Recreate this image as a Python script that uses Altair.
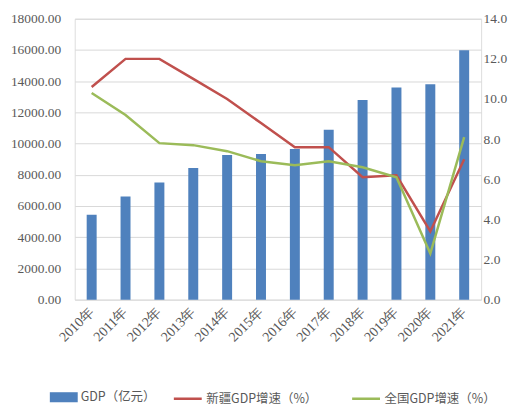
import altair as alt
import pandas as pd

years = ["2010年", "2011年", "2012年", "2013年", "2014年", "2015年",
         "2016年", "2017年", "2018年", "2019年", "2020年", "2021年"]
gdp = [5437, 6610, 7505, 8443, 9273, 9325, 9650, 10882, 12800, 13597, 13798, 15983]
xj_growth = [10.6, 12.0, 12.0, 11.0, 10.0, 8.8, 7.6, 7.6, 6.1, 6.2, 3.4, 7.0]
cn_growth = [10.3, 9.2, 7.8, 7.7, 7.4, 6.9, 6.7, 6.9, 6.6, 6.1, 2.3, 8.1]

names = ["GDP（亿元）", "新疆GDP增速（%）", "全国GDP增速（%）"]
colors = ["#4f81bd", "#c0504d", "#9bbb59"]

bar_df = pd.DataFrame({"year": years, "value": gdp, "series": names[0]})
line_df = pd.concat([
    pd.DataFrame({"year": years, "value": xj_growth, "series": names[1]}),
    pd.DataFrame({"year": years, "value": cn_growth, "series": names[2]}),
])

serif = "Liberation Serif"
label_color = "#595959"

rect_path = "M-1,-0.36H1V0.36H-1Z"

bar_legend = alt.Legend(
    title=None, orient="none", legendX=-25, legendY=366, direction="horizontal",
    labelFont="Noto Sans CJK SC", labelFontSize=12.5, labelColor=label_color,
    symbolType=rect_path, symbolSize=784, symbolStrokeWidth=0, labelOffset=3,
    labelLimit=300,
)
line_legend = alt.Legend(
    title=None, orient="none", legendX=98, legendY=366, direction="horizontal",
    labelFont="Noto Sans CJK SC", labelFontSize=12.5, labelColor=label_color,
    symbolType="stroke", symbolSize=784, symbolStrokeWidth=2.5, labelOffset=3,
    columnPadding=29, labelLimit=300,
)

x_enc = alt.X("year:N", sort=years, title=None,
              scale=alt.Scale(paddingInner=0, paddingOuter=0),
              axis=alt.Axis(labelAngle=-45, labelAlign="right", labelBaseline="middle",
                            labelFontSize=14, labelPadding=10, ticks=False,
                            domain=False, grid=False))

bars = alt.Chart(bar_df).mark_bar(size=10).encode(
    x=x_enc,
    y=alt.Y("value:Q", title=None,
            scale=alt.Scale(domain=[0, 18000]),
            axis=alt.Axis(values=list(range(0, 18001, 2000)), format=".2f",
                          labelFontSize=13.5, labelPadding=14, ticks=False, domain=False,
                          grid=True, gridColor="#d9d9d9", gridWidth=1)),
    fill=alt.Fill("series:N", scale=alt.Scale(domain=names[:1], range=colors[:1]),
                  legend=bar_legend),
)

lines = alt.Chart(line_df).mark_line(strokeWidth=2.5).encode(
    x=alt.X("year:N", sort=years),
    y=alt.Y("value:Q", title=None,
            scale=alt.Scale(domain=[0, 14]),
            axis=alt.Axis(orient="right", values=list(range(0, 15, 2)), format=".1f",
                          labelFontSize=13.5, labelPadding=2, ticks=False,
                          domain=False, grid=False)),
    stroke=alt.Stroke("series:N", scale=alt.Scale(domain=names[1:], range=colors[1:]),
                      legend=line_legend),
)

chart = alt.layer(bars, lines).resolve_scale(y="independent").properties(
    width=408, height=282,
    autosize=alt.AutoSizeParams(type="none"),
    padding={"left": 67, "top": 10, "right": 30, "bottom": 105},
).configure_view(stroke=None).configure(background="white").configure_axis(
    labelFont=serif, labelColor=label_color
)

chart.save("out.html", embed_options={"renderer": "svg", "actions": False})
